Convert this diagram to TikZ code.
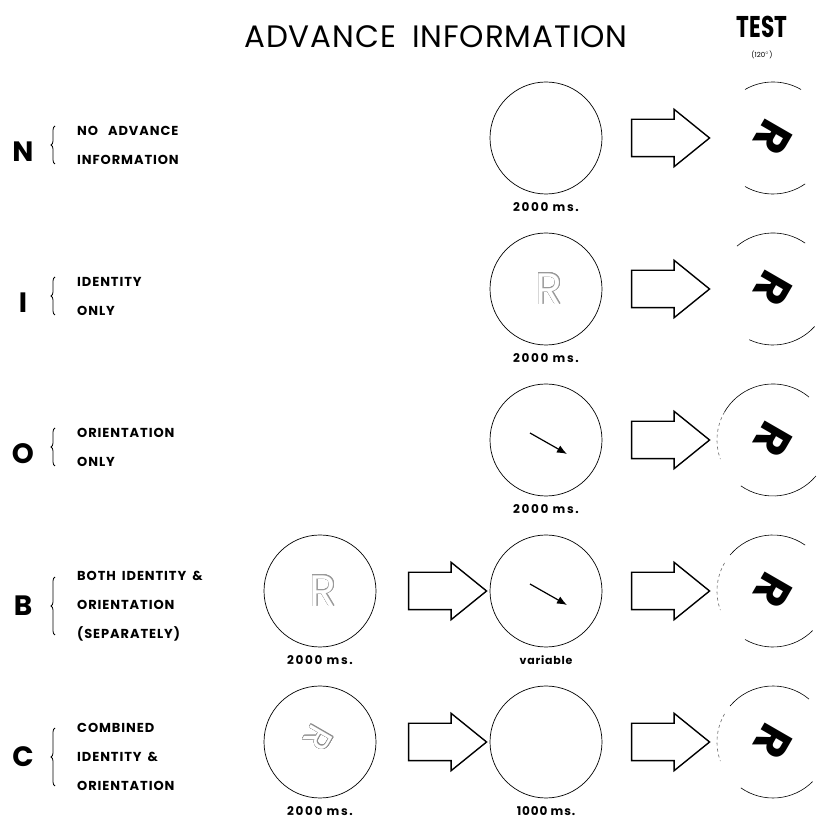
\documentclass[tikz,border=0pt]{standalone}
\usepackage{fontspec}
\setmainfont{Poppins}
\newfontfamily\headfont{Poppins}[LetterSpace=3.0]
\newfontfamily\labfont{Poppins}[LetterSpace=7.0]
\newfontfamily\msfont{Poppins}[LetterSpace=14.0]
\usepackage{contour}
\contourlength{0.5pt}
\contournumber{24}
\usetikzlibrary{shapes.arrows,decorations.pathreplacing,arrows.meta}

\tikzset{
  cond/.style={font=\fontsize{28}{28}\selectfont\bfseries, inner sep=0pt},
  condtext/.style={font=\labfont\fontsize{13}{29}\selectfont\bfseries, align=left, anchor=west, inner sep=0pt},
  disk/.style={circle, draw, line width=0.7pt, minimum size=112pt, inner sep=0pt, outer sep=0pt},
  testdisk/.style={circle, minimum size=112pt, inner sep=0pt, outer sep=0pt},
  blockarrow/.style={single arrow, draw, line width=1.4pt, minimum height=78pt, inner xsep=0pt, inner ysep=18pt, single arrow head extend=10pt, single arrow tip angle=78},
  dur/.style={font=\msfont\fontsize{12}{12}\selectfont\bfseries, inner sep=0pt},
  testR/.style={font=\fontsize{46}{46}\selectfont\bfseries, rotate=-120, inner sep=0pt},
  ghostR/.style={font=\fontsize{44}{44}\selectfont, inner sep=0pt},
  testarc/.style={line width=0.6pt},
  cue/.style={line width=1.2pt, -{Latex[length=10pt,width=8pt]}},
  brc/.style={decorate, decoration={brace, amplitude=4pt}, line width=0.8pt},
}

\begin{document}
\begin{tikzpicture}[x=1pt,y=1pt]
\useasboundingbox (0,0) rectangle (821,822);

% headings
\node[font=\headfont\fontsize{31}{31}\selectfont, inner sep=0pt] (adv) at (436,785) {ADVANCE\hspace{16pt}INFORMATION};
\node[font=\fontsize{30}{30}\selectfont\bfseries, xscale=0.72, inner sep=0pt] (test) at (762,795) {TEST};
\node[font=\fontsize{7}{7}\selectfont, inner sep=0pt] (angle) at (762,767) {(120$^\circ$)};

% condition labels
\node[cond] (n) at (23,670) {N};
\node[cond] (i) at (23,519) {I};
\node[cond] (o) at (23,368) {O};
\node[cond] (b) at (23,216) {B};
\node[cond] (c) at (23,65) {C};
\draw[brc] (55,658) -- (55,696);
\draw[brc] (55,507) -- (55,545);
\draw[brc] (55,356) -- (55,394);
\draw[brc] (55,187) -- (55,245);
\draw[brc] (55,36) -- (55,94);
\node[condtext] (ntxt) at (77,677) {NO\hspace{10pt}ADVANCE\\INFORMATION};
\node[condtext] (itxt) at (77,526) {IDENTITY\\ONLY};
\node[condtext] (otxt) at (77,375) {ORIENTATION\\ONLY};
\node[condtext] (btxt) at (77,216) {BOTH\hspace{6pt}IDENTITY\hspace{6pt}\&\\ORIENTATION\\(SEPARATELY)};
\node[condtext] (ctxt) at (77,65) {COMBINED\\IDENTITY\hspace{6pt}\&\\ORIENTATION};

% advance displays
\node[disk] (n1) at (546,684) {};
\node[disk] (i1) at (546,533) {};
\node[disk] (o1) at (546,382) {};
\node[disk] (b0) at (320,231) {};
\node[disk] (b1) at (546,231) {};
\node[disk] (c0) at (320,80) {};
\node[disk] (c1) at (546,80) {};

\node[ghostR] (ir) at (549,533) {\contour{black!40}{\color{white}R}};
\node[ghostR] (br) at (323,231) {\contour{black!40}{\color{white}R}};
\node[ghostR, rotate=-120, font=\fontsize{36}{36}\selectfont] (cr) at (318,84) {\contour{black!45}{\color{white}R}};
\draw[cue] ([shift={(-16,7)}]o1.center) -- ([shift={(21,-14)}]o1.center);
\draw[cue] ([shift={(-16,7)}]b1.center) -- ([shift={(21,-14)}]b1.center);

\node[dur] (nd) at (546,615) {2000 ms.};
\node[dur] (id) at (546,464) {2000 ms.};
\node[dur] (od) at (546,313) {2000 ms.};
\node[dur] (bd0) at (320,162) {2000 ms.};
\node[dur, font=\labfont\fontsize{11}{11}\selectfont\bfseries] (bd1) at (546,162) {variable};
\node[dur] (cd0) at (320,11) {2000 ms.};
\node[dur, font=\labfont\fontsize{12}{12}\selectfont\bfseries] (cd1) at (546,11) {1000 ms.};

% arrows
\node[blockarrow] (ba) at (436,231) {};
\node[blockarrow] (ca) at (436,80) {};
\foreach \r in {n,i,o,b,c} {
  \node[blockarrow] (\r a) at ([xshift=113pt]\r 1.center) {};
  \node[testdisk] (\r t) at ([xshift=227pt]\r 1.center) {};
  \node[testR] (\r R) at (\r t.center) {R};
}

% test rims
\foreach \r/\a/\b/\c/\d in {n/60/120/240/305, i/55/130/245/318, o/50/150/235/320, b/55/140/240/315, c/50/140/235/315} {
  \draw[testarc] (\r t.\a) arc[start angle=\a, end angle=\b, radius=56pt];
  \draw[testarc] (\r t.\c) arc[start angle=\c, end angle=\d, radius=56pt];
}
\foreach \r in {o,b,c}
  \draw[testarc, dashed, black!60] (\r t.150) arc[start angle=150, end angle=200, radius=56pt];
\end{tikzpicture}
\end{document}
